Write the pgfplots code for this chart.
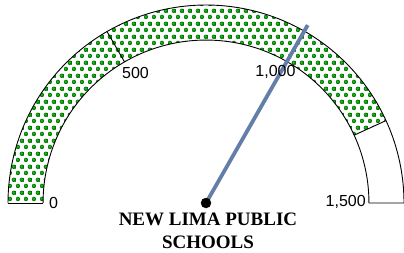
\documentclass[border=0pt]{standalone}
\usepackage{fontspec}
\setmainfont{Liberation Sans}
\newfontfamily\titlefont{Liberation Serif}
\usepackage{pgfplots}
\pgfplotsset{compat=1.18}
\usepgfplotslibrary{fillbetween}
\usetikzlibrary{patterns.meta}
\definecolor{needlecol}{RGB}{100,126,170}
\definecolor{dotdark}{RGB}{0,120,0}
\definecolor{dotlight}{RGB}{30,180,30}
\pgfdeclarepattern{
  name=gdots,
  type=colored,
  bottom left={\pgfpoint{0pt}{0pt}},
  top right={\pgfpoint{8.3pt}{12.6pt}},
  tile size={\pgfpoint{8.3pt}{12.6pt}},
  code={
    \pgfsetfillcolor{dotdark}
    \pgfpathcircle{\pgfpoint{2.1pt}{3.15pt}}{2.3pt}
    \pgfpathcircle{\pgfpoint{6.25pt}{9.45pt}}{2.3pt}
    \pgfusepath{fill}
    \pgfsetfillcolor{dotlight}
    \pgfpathcircle{\pgfpoint{1.9pt}{3.35pt}}{1.4pt}
    \pgfpathcircle{\pgfpoint{6.05pt}{9.65pt}}{1.4pt}
    \pgfusepath{fill}
  }
}
% gauge: 0..1500 over 180 degrees
\newcommand{\gmax}{1500}
\newcommand{\bandend}{1295}
\newcommand{\needleval}{998}
\newcommand{\rin}{0.823}
\begin{document}
\begin{tikzpicture}
\begin{axis}[
  x=198pt, y=198pt,
  xmin=-1.0404, xmax=1.0, ymin=-0.2475, ymax=1.0253,
  hide axis, clip=false,
]
% green band
\addplot[name path=outer, draw=none, domain=0:\bandend, samples=120, variable=\v]
  ({cos(180-180*\v/\gmax)}, {sin(180-180*\v/\gmax)});
\addplot[name path=inner, draw=none, domain=0:\bandend, samples=120, variable=\v]
  ({\rin*cos(180-180*\v/\gmax)}, {\rin*sin(180-180*\v/\gmax)});
\addplot[pattern=gdots, draw=none] fill between[of=outer and inner];
% outlines
\addplot[black, line width=0.9pt, domain=0:\gmax, samples=150, variable=\v]
  ({cos(180-180*\v/\gmax)}, {sin(180-180*\v/\gmax)});
\addplot[black, line width=0.9pt, domain=0:\gmax, samples=150, variable=\v]
  ({\rin*cos(180-180*\v/\gmax)}, {\rin*sin(180-180*\v/\gmax)});
\foreach \t in {0,500,1000,\bandend,\gmax}{
  \addplot[black, line width=0.9pt, domain=\rin:1, samples=2, variable=\r]
    ({\r*cos(180-180*\t/\gmax)}, {\r*sin(180-180*\t/\gmax)});
}
% needle
\addplot[needlecol, line width=3.8pt, domain=0:1.035, samples=2, variable=\r]
  ({\r*cos(180-180*\needleval/\gmax)}, {\r*sin(180-180*\needleval/\gmax)});
\addplot[only marks, mark=*, mark size=5pt, black] coordinates {(0,0)};
% labels
\node[anchor=west, inner sep=0pt, font=\fontsize{16}{18}\selectfont] at (axis cs:-0.793,0) {0};
\node[inner sep=0pt, font=\fontsize{16}{18}\selectfont] at (axis cs:-0.356,0.659) {500};
\node[inner sep=0pt, font=\fontsize{16}{18}\selectfont] at (axis cs:0.351,0.664) {1,000};
\node[anchor=east, inner sep=0pt, font=\fontsize{16}{18}\selectfont] at (axis cs:0.808,0.005) {1,500};
\node[align=center, inner sep=0pt, font=\titlefont\bfseries\fontsize{19}{23}\selectfont] at (axis cs:0.01,-0.139) {NEW LIMA PUBLIC\\SCHOOLS};
\end{axis}
\pgfresetboundingbox
\path (current axis.south west) rectangle (current axis.north east);
\end{tikzpicture}
\end{document}
